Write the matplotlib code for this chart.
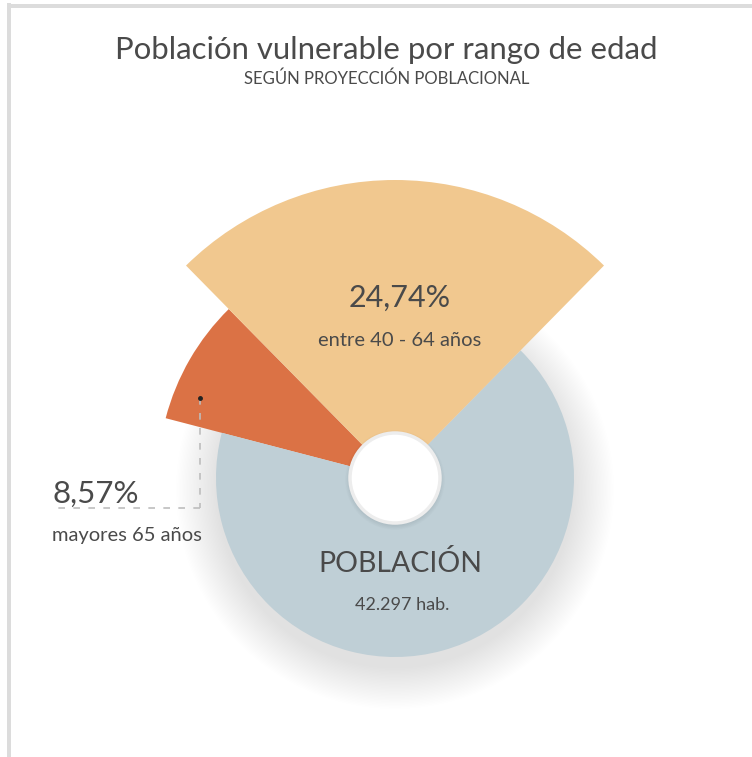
import matplotlib
matplotlib.use("Agg")
import matplotlib.pyplot as plt
from matplotlib.patches import Circle, Rectangle

# data
groups = ["entre 40 - 64 años", "mayores 65 años", "POBLACIÓN"]
shares = [24.74, 8.57, 66.69]
share_labels = ["24,74%", "8,57%"]
population_label = "42.297 hab."
title = "Población vulnerable por rango de edad"
subtitle = "SEGÚN PROYECCIÓN POBLACIONAL"

colors = ["#F1C88F", "#DB7245", "#BFCFD6"]
radii = [298, 237, 179]
text_color = "#4A4A4A"
W, H = 752, 757
cx, cy = 395, H - 478

plt.rcParams["font.family"] = ["Lato", "DejaVu Sans"]

fig = plt.figure(figsize=(W / 100, H / 100), dpi=100)
ax = fig.add_axes([0, 0, 1, 1])

# frame lines on top and left
ax.add_patch(Rectangle((7, 0), 4, H - 3, color="#DCDCDC", lw=0, zorder=0))
ax.add_patch(Rectangle((7, H - 8), W - 7, 4, color="#DCDCDC", lw=0, zorder=0))

# soft shadow under the base circle
for k in range(30):
    ax.add_patch(Circle((cx, cy - 12), radii[2] + 40 - k * 1.4,
                        color="#000000", alpha=0.0022, lw=0, zorder=1))

startangle = 90 - shares[0] * 3.6 / 2
wedges, _ = ax.pie(shares, colors=colors, startangle=startangle,
                   center=(cx, cy), radius=radii[2], frame=True,
                   wedgeprops=dict(linewidth=0))
for w, r in zip(wedges, radii):
    w.set_radius(r)
    w.set_zorder(2)
wedges[0].set_zorder(3)

# centre hole
for k in range(8):
    ax.add_patch(Circle((cx, cy - 2), 50 - k * 0.6, color="#000000",
                        alpha=0.006, lw=0, zorder=4))
ax.add_patch(Circle((cx, cy), 45, facecolor="white", edgecolor="#EDEDED",
                    lw=2.5, zorder=5))

# leader for the small slice
ax.plot([200, 200], [H - 398, H - 508], color="#BDBDBD", lw=1.2,
        ls=(0, (4, 5)), zorder=6)
ax.plot([200, 55], [H - 508, H - 508], color="#BDBDBD", lw=1.2,
        ls=(0, (4, 5)), zorder=6)
ax.plot([200], [H - 398], marker="o", ms=2.5, color="#222222", zorder=7)

ax.text(386, H - 50, title, ha="center", va="center", fontsize=22.4,
        color=text_color)
ax.text(387, H - 79, subtitle, ha="center", va="center", fontsize=12,
        color=text_color)

ax.text(400, H - 298, share_labels[0], ha="center", va="center",
        fontsize=22, color=text_color)
ax.text(400, H - 340, groups[0], ha="center", va="center",
        fontsize=14.5, color=text_color)

ax.text(52, H - 494, share_labels[1], ha="left", va="center",
        fontsize=22.5, color=text_color)
ax.text(52, H - 535, groups[1], ha="left", va="center",
        fontsize=14.5, color=text_color)

ax.text(400, H - 564, groups[2], ha="center", va="center",
        fontsize=20.5, color=text_color)
ax.text(402, H - 605, population_label, ha="center", va="center",
        fontsize=13, color=text_color)

ax.set_xlim(0, W)
ax.set_ylim(0, H)
ax.set_aspect("auto")
ax.axis("off")

fig.savefig("out.png", dpi=100, facecolor="white")
